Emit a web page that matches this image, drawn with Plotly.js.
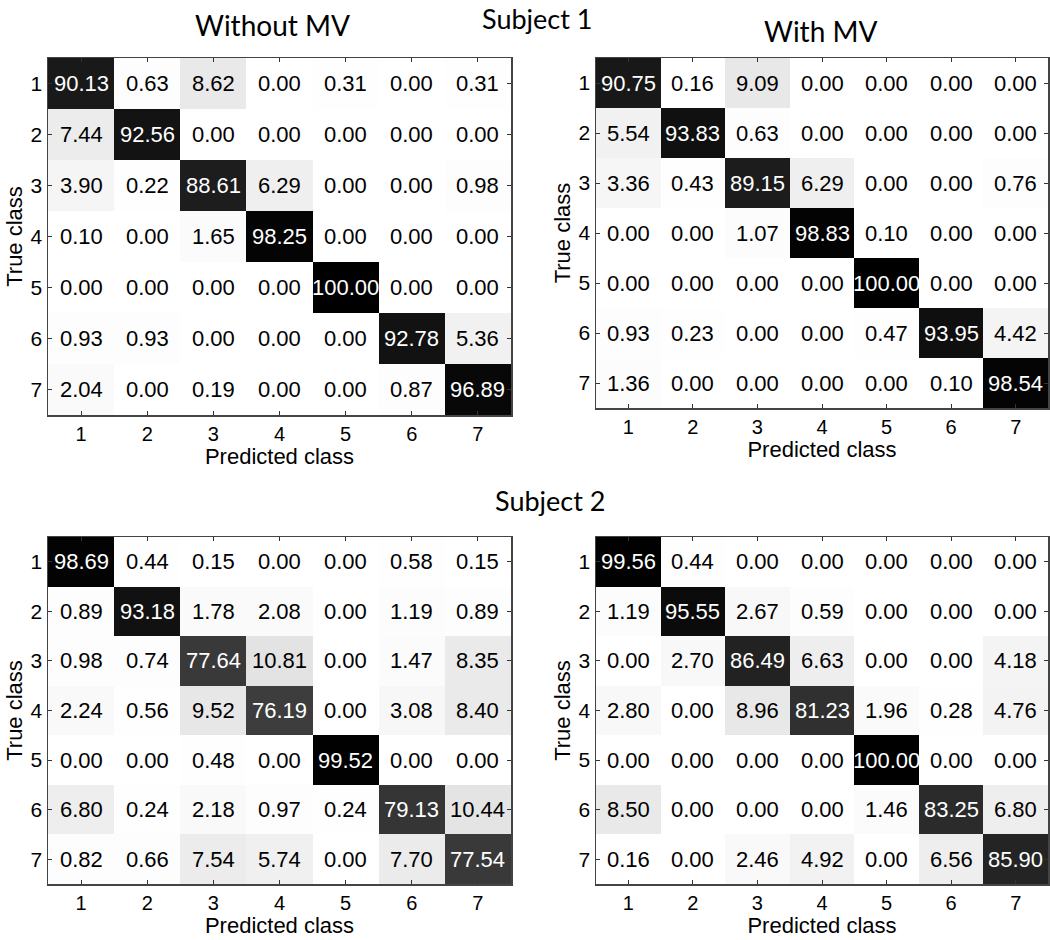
<!DOCTYPE html>
<html>
<head>
<meta charset="utf-8">
<script src="https://cdn.plot.ly/plotly-3.0.1.min.js"></script>
<style>html,body{margin:0;padding:0;background:#fff;}#chart{width:1050px;height:940px;}</style>
</head>
<body>
<div id="chart"></div>
<script>
// Class labels (shared by all four matrices)
const classes = [1, 2, 3, 4, 5, 6, 7];

// Subject 1, without majority voting (rows = true class, cols = predicted class)
const s1WithoutMV = [
  [90.13, 0.63, 8.62, 0.00, 0.31, 0.00, 0.31],
  [7.44, 92.56, 0.00, 0.00, 0.00, 0.00, 0.00],
  [3.90, 0.22, 88.61, 6.29, 0.00, 0.00, 0.98],
  [0.10, 0.00, 1.65, 98.25, 0.00, 0.00, 0.00],
  [0.00, 0.00, 0.00, 0.00, 100.00, 0.00, 0.00],
  [0.93, 0.93, 0.00, 0.00, 0.00, 92.78, 5.36],
  [2.04, 0.00, 0.19, 0.00, 0.00, 0.87, 96.89]
];

// Subject 1, with majority voting
const s1WithMV = [
  [90.75, 0.16, 9.09, 0.00, 0.00, 0.00, 0.00],
  [5.54, 93.83, 0.63, 0.00, 0.00, 0.00, 0.00],
  [3.36, 0.43, 89.15, 6.29, 0.00, 0.00, 0.76],
  [0.00, 0.00, 1.07, 98.83, 0.10, 0.00, 0.00],
  [0.00, 0.00, 0.00, 0.00, 100.00, 0.00, 0.00],
  [0.93, 0.23, 0.00, 0.00, 0.47, 93.95, 4.42],
  [1.36, 0.00, 0.00, 0.00, 0.00, 0.10, 98.54]
];

// Subject 2, without majority voting
const s2WithoutMV = [
  [98.69, 0.44, 0.15, 0.00, 0.00, 0.58, 0.15],
  [0.89, 93.18, 1.78, 2.08, 0.00, 1.19, 0.89],
  [0.98, 0.74, 77.64, 10.81, 0.00, 1.47, 8.35],
  [2.24, 0.56, 9.52, 76.19, 0.00, 3.08, 8.40],
  [0.00, 0.00, 0.48, 0.00, 99.52, 0.00, 0.00],
  [6.80, 0.24, 2.18, 0.97, 0.24, 79.13, 10.44],
  [0.82, 0.66, 7.54, 5.74, 0.00, 7.70, 77.54]
];

// Subject 2, with majority voting
const s2WithMV = [
  [99.56, 0.44, 0.00, 0.00, 0.00, 0.00, 0.00],
  [1.19, 95.55, 2.67, 0.59, 0.00, 0.00, 0.00],
  [0.00, 2.70, 86.49, 6.63, 0.00, 0.00, 4.18],
  [2.80, 0.00, 8.96, 81.23, 1.96, 0.28, 4.76],
  [0.00, 0.00, 0.00, 0.00, 100.00, 0.00, 0.00],
  [8.50, 0.00, 0.00, 0.00, 1.46, 83.25, 6.80],
  [0.16, 0.00, 2.46, 4.92, 0.00, 6.56, 85.90]
];

const panelTitles = ["Without MV", "With MV"];
const subjectTitles = ["Subject 1", "Subject 2"];
const xTitle = "Predicted class";
const yTitle = "True class";

const panels = [
  {z: s1WithoutMV, xa: "x", ya: "y"},
  {z: s1WithMV, xa: "x2", ya: "y2"},
  {z: s2WithoutMV, xa: "x3", ya: "y3"},
  {z: s2WithMV, xa: "x4", ya: "y4"}
];

const numFont = "Liberation Sans, Arial, sans-serif";
const titleFont = "Lato, Open Sans, sans-serif";

const data = [];
const annotations = [];
panels.forEach(p => {
  data.push({
    type: "heatmap",
    x: classes, y: classes, z: p.z,
    xaxis: p.xa, yaxis: p.ya,
    zmin: 0, zmax: 100,
    colorscale: [[0, "#ffffff"], [1, "#000000"]],
    showscale: false,
    xgap: 0, ygap: 0,
    hoverinfo: "x+y+z"
  });
  p.z.forEach((row, i) => {
    row.forEach((v, j) => {
      annotations.push({
        xref: p.xa, yref: p.ya,
        x: classes[j], y: classes[i],
        text: v.toFixed(2),
        showarrow: false,
        font: {family: numFont, size: 22, color: v > 50 ? "#ffffff" : "#000000"}
      });
    });
  });
});

// Titles
annotations.push({xref: "paper", yref: "paper", x: 272/1050, y: 1 - 25/940, text: panelTitles[0], showarrow: false, font: {family: titleFont, size: 28, color: "#000"}, xanchor: "center", yanchor: "middle"});
annotations.push({xref: "paper", yref: "paper", x: 820/1050, y: 1 - 31/940, text: panelTitles[1], showarrow: false, font: {family: titleFont, size: 28, color: "#000"}, xanchor: "center", yanchor: "middle"});
annotations.push({xref: "paper", yref: "paper", x: 537/1050, y: 1 - 1/940, text: subjectTitles[0], showarrow: false, font: {family: titleFont, size: 27, color: "#000"}, xanchor: "center", yanchor: "top", borderpad: 0});
annotations.push({xref: "paper", yref: "paper", x: 550/1050, y: 1 - 500/940, text: subjectTitles[1], showarrow: false, font: {family: titleFont, size: 27, color: "#000"}, xanchor: "center", yanchor: "middle"});

function xAxis(domain, anchor) {
  return {
    domain: domain, anchor: anchor,
    range: [0.5, 7.5], tickvals: classes, ticktext: classes.map(String),
    ticks: "inside", ticklen: 4, tickwidth: 1, tickcolor: "#333",
    showline: true, linecolor: "#444", linewidth: 1.5, mirror: "ticks",
    showgrid: false, zeroline: false,
    tickfont: {family: numFont, size: 20, color: "#000"},
    title: {text: xTitle, font: {family: numFont, size: 22, color: "#000"}, standoff: 0},
    fixedrange: true
  };
}
function yAxis(domain, anchor) {
  return {
    domain: domain, anchor: anchor,
    range: [7.5, 0.5], tickvals: classes, ticktext: classes.map(String),
    ticks: "inside", ticklen: 4, tickwidth: 1, tickcolor: "#333",
    showline: true, linecolor: "#444", linewidth: 1.5, mirror: "ticks",
    showgrid: false, zeroline: false,
    tickfont: {family: numFont, size: 21, color: "#000"},
    title: {text: yTitle, font: {family: numFont, size: 22, color: "#000"}, standoff: 2},
    fixedrange: true
  };
}

const W = 1050, H = 940;
const leftX = [48/W, 511/W];
const rightX = [596/W, 1048/W];
const layout = {
  width: W, height: H,
  margin: {l: 0, r: 0, t: 0, b: 0},
  paper_bgcolor: "#fff", plot_bgcolor: "#fff",
  showlegend: false,
  xaxis: xAxis(leftX, "y"),
  yaxis: yAxis([1 - 415/H, 1 - 58/H], "x"),
  xaxis2: xAxis(rightX, "y2"),
  yaxis2: yAxis([1 - 408/H, 1 - 58/H], "x2"),
  xaxis3: xAxis(leftX, "y3"),
  yaxis3: yAxis([1 - 884/H, 1 - 537/H], "x3"),
  xaxis4: xAxis(rightX, "y4"),
  yaxis4: yAxis([1 - 884/H, 1 - 537/H], "x4"),
  annotations: annotations
};

Plotly.newPlot("chart", data, layout, {displayModeBar: false, staticPlot: true});
</script>
</body>
</html>
